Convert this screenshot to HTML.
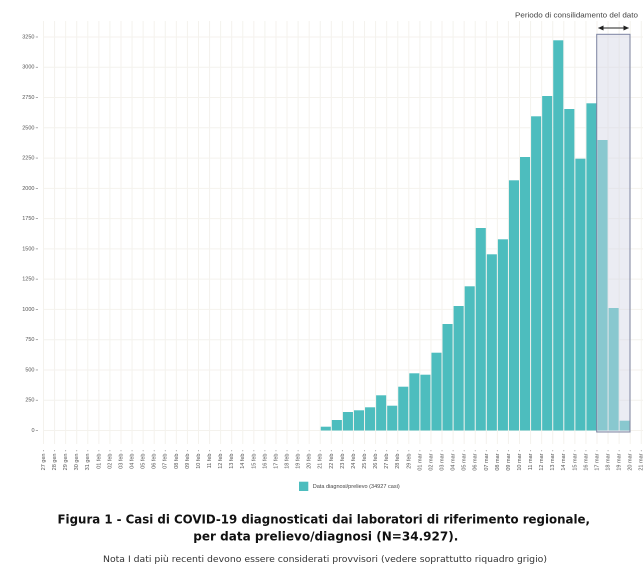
<!DOCTYPE html>
<html><head><meta charset="utf-8"><style>
html,body{margin:0;padding:0;background:#fff;}
svg{display:block;}
</style></head><body>
<svg width="643" height="574" viewBox="0 0 643 574" xmlns="http://www.w3.org/2000/svg">
<rect width="643" height="574" fill="#fff"/>
<defs>
<marker id="ah" markerWidth="6" markerHeight="6" refX="5" refY="3" orient="auto-start-reverse" markerUnits="userSpaceOnUse"><path d="M0,0.5 L5.5,3 L0,5.5 Z" fill="#222"/></marker>
</defs>
<!-- vertical grid -->
<g stroke="#f4f2ed" stroke-width="1">
<line x1="43.5" y1="21" x2="43.5" y2="444"/><line x1="54.57" y1="21" x2="54.57" y2="444"/><line x1="65.64" y1="21" x2="65.64" y2="444"/><line x1="76.71" y1="21" x2="76.71" y2="444"/><line x1="87.78" y1="21" x2="87.78" y2="444"/><line x1="98.85" y1="21" x2="98.85" y2="444"/><line x1="109.92" y1="21" x2="109.92" y2="444"/><line x1="120.99" y1="21" x2="120.99" y2="444"/><line x1="132.06" y1="21" x2="132.06" y2="444"/><line x1="143.13" y1="21" x2="143.13" y2="444"/><line x1="154.2" y1="21" x2="154.2" y2="444"/><line x1="165.27" y1="21" x2="165.27" y2="444"/><line x1="176.34" y1="21" x2="176.34" y2="444"/><line x1="187.41" y1="21" x2="187.41" y2="444"/><line x1="198.48" y1="21" x2="198.48" y2="444"/><line x1="209.55" y1="21" x2="209.55" y2="444"/><line x1="220.62" y1="21" x2="220.62" y2="444"/><line x1="231.69" y1="21" x2="231.69" y2="444"/><line x1="242.76" y1="21" x2="242.76" y2="444"/><line x1="253.83" y1="21" x2="253.83" y2="444"/><line x1="264.9" y1="21" x2="264.9" y2="444"/><line x1="275.97" y1="21" x2="275.97" y2="444"/><line x1="287.04" y1="21" x2="287.04" y2="444"/><line x1="298.11" y1="21" x2="298.11" y2="444"/><line x1="309.18" y1="21" x2="309.18" y2="444"/><line x1="320.25" y1="21" x2="320.25" y2="444"/><line x1="331.32" y1="21" x2="331.32" y2="444"/><line x1="342.39" y1="21" x2="342.39" y2="444"/><line x1="353.46" y1="21" x2="353.46" y2="444"/><line x1="364.53" y1="21" x2="364.53" y2="444"/><line x1="375.6" y1="21" x2="375.6" y2="444"/><line x1="386.67" y1="21" x2="386.67" y2="444"/><line x1="397.74" y1="21" x2="397.74" y2="444"/><line x1="408.81" y1="21" x2="408.81" y2="444"/><line x1="419.88" y1="21" x2="419.88" y2="444"/><line x1="430.95" y1="21" x2="430.95" y2="444"/><line x1="442.02" y1="21" x2="442.02" y2="444"/><line x1="453.09" y1="21" x2="453.09" y2="444"/><line x1="464.16" y1="21" x2="464.16" y2="444"/><line x1="475.23" y1="21" x2="475.23" y2="444"/><line x1="486.3" y1="21" x2="486.3" y2="444"/><line x1="497.37" y1="21" x2="497.37" y2="444"/><line x1="508.44" y1="21" x2="508.44" y2="444"/><line x1="519.51" y1="21" x2="519.51" y2="444"/><line x1="530.58" y1="21" x2="530.58" y2="444"/><line x1="541.65" y1="21" x2="541.65" y2="444"/><line x1="552.72" y1="21" x2="552.72" y2="444"/><line x1="563.79" y1="21" x2="563.79" y2="444"/><line x1="574.86" y1="21" x2="574.86" y2="444"/><line x1="585.93" y1="21" x2="585.93" y2="444"/><line x1="597" y1="21" x2="597" y2="444"/><line x1="608.07" y1="21" x2="608.07" y2="444"/><line x1="619.14" y1="21" x2="619.14" y2="444"/><line x1="630.21" y1="21" x2="630.21" y2="444"/><line x1="641.28" y1="21" x2="641.28" y2="444"/>
</g>
<!-- horizontal grid -->
<g stroke="#f4f2ed" stroke-width="1">
<line x1="43" y1="430.5" x2="643" y2="430.5"/><line x1="43" y1="400.23" x2="643" y2="400.23"/><line x1="43" y1="369.96" x2="643" y2="369.96"/><line x1="43" y1="339.69" x2="643" y2="339.69"/><line x1="43" y1="309.42" x2="643" y2="309.42"/><line x1="43" y1="279.15" x2="643" y2="279.15"/><line x1="43" y1="248.88" x2="643" y2="248.88"/><line x1="43" y1="218.61" x2="643" y2="218.61"/><line x1="43" y1="188.34" x2="643" y2="188.34"/><line x1="43" y1="158.07" x2="643" y2="158.07"/><line x1="43" y1="127.8" x2="643" y2="127.8"/><line x1="43" y1="97.53" x2="643" y2="97.53"/><line x1="43" y1="67.26" x2="643" y2="67.26"/><line x1="43" y1="36.99" x2="643" y2="36.99"/>
</g>
<!-- y labels -->
<g font-family="Liberation Sans, sans-serif" font-size="5.5" fill="#555" text-anchor="end" dominant-baseline="middle">
<text x="34.5" y="430.5">0</text><text x="34.5" y="400.23">250</text><text x="34.5" y="369.96">500</text><text x="34.5" y="339.69">750</text><text x="34.5" y="309.42">1000</text><text x="34.5" y="279.15">1250</text><text x="34.5" y="248.88">1500</text><text x="34.5" y="218.61">1750</text><text x="34.5" y="188.34">2000</text><text x="34.5" y="158.07">2250</text><text x="34.5" y="127.8">2500</text><text x="34.5" y="97.53">2750</text><text x="34.5" y="67.26">3000</text><text x="34.5" y="36.99">3250</text>
</g>
<g stroke="#888" stroke-width="0.7">
<line x1="35.8" y1="430.5" x2="38" y2="430.5"/><line x1="35.8" y1="400.23" x2="38" y2="400.23"/><line x1="35.8" y1="369.96" x2="38" y2="369.96"/><line x1="35.8" y1="339.69" x2="38" y2="339.69"/><line x1="35.8" y1="309.42" x2="38" y2="309.42"/><line x1="35.8" y1="279.15" x2="38" y2="279.15"/><line x1="35.8" y1="248.88" x2="38" y2="248.88"/><line x1="35.8" y1="218.61" x2="38" y2="218.61"/><line x1="35.8" y1="188.34" x2="38" y2="188.34"/><line x1="35.8" y1="158.07" x2="38" y2="158.07"/><line x1="35.8" y1="127.8" x2="38" y2="127.8"/><line x1="35.8" y1="97.53" x2="38" y2="97.53"/><line x1="35.8" y1="67.26" x2="38" y2="67.26"/><line x1="35.8" y1="36.99" x2="38" y2="36.99"/>
</g>
<!-- bars -->
<g fill="#4dbdbe">
<rect x="320.75" y="426.7" width="10.07" height="3.8"/>
<rect x="331.82" y="420" width="10.07" height="10.5"/>
<rect x="342.89" y="412" width="10.07" height="18.5"/>
<rect x="353.96" y="410.3" width="10.07" height="20.2"/>
<rect x="365.03" y="407.3" width="10.07" height="23.2"/>
<rect x="376.1" y="395.3" width="10.07" height="35.2"/>
<rect x="387.17" y="405.7" width="10.07" height="24.8"/>
<rect x="398.24" y="386.7" width="10.07" height="43.8"/>
<rect x="409.31" y="373.3" width="10.07" height="57.2"/>
<rect x="420.38" y="374.7" width="10.07" height="55.8"/>
<rect x="431.45" y="352.7" width="10.07" height="77.8"/>
<rect x="442.52" y="324" width="10.07" height="106.5"/>
<rect x="453.59" y="306" width="10.07" height="124.5"/>
<rect x="464.66" y="286.3" width="10.07" height="144.2"/>
<rect x="475.73" y="228" width="10.07" height="202.5"/>
<rect x="486.8" y="254.3" width="10.07" height="176.2"/>
<rect x="497.87" y="239.3" width="10.07" height="191.2"/>
<rect x="508.94" y="180.3" width="10.07" height="250.2"/>
<rect x="520.01" y="157" width="10.07" height="273.5"/>
<rect x="531.08" y="116.3" width="10.07" height="314.2"/>
<rect x="542.15" y="96" width="10.07" height="334.5"/>
<rect x="553.22" y="40.3" width="10.07" height="390.2"/>
<rect x="564.29" y="109" width="10.07" height="321.5"/>
<rect x="575.36" y="158.7" width="10.07" height="271.8"/>
<rect x="586.43" y="103.3" width="10.07" height="327.2"/>
<rect x="597.5" y="140" width="10.07" height="290.5"/>
<rect x="608.57" y="308" width="10.07" height="122.5"/>
<rect x="619.64" y="420.7" width="10.07" height="9.8"/>
</g>
<!-- consolidation box -->
<rect x="596.7" y="34.3" width="33.3" height="397.7" fill="#d3d5e5" fill-opacity="0.45" stroke="#7d84a2" stroke-width="1"/>
<line x1="598.5" y1="28" x2="628.5" y2="28" stroke="#222" stroke-width="1.1" marker-start="url(#ah)" marker-end="url(#ah)"/>
<text x="576.5" y="17.5" font-family="Liberation Sans, sans-serif" font-size="7.5" fill="#444" text-anchor="middle" textLength="123" lengthAdjust="spacingAndGlyphs">Periodo di consilidamento del dato</text>
<!-- x ticks -->
<g fill="#777">
<circle cx="43.5" cy="450.7" r="0.5"/><circle cx="54.57" cy="450.7" r="0.5"/><circle cx="65.64" cy="450.7" r="0.5"/><circle cx="76.71" cy="450.7" r="0.5"/><circle cx="87.78" cy="450.7" r="0.5"/><circle cx="98.85" cy="450.7" r="0.5"/><circle cx="109.92" cy="450.7" r="0.5"/><circle cx="120.99" cy="450.7" r="0.5"/><circle cx="132.06" cy="450.7" r="0.5"/><circle cx="143.13" cy="450.7" r="0.5"/><circle cx="154.2" cy="450.7" r="0.5"/><circle cx="165.27" cy="450.7" r="0.5"/><circle cx="176.34" cy="450.7" r="0.5"/><circle cx="187.41" cy="450.7" r="0.5"/><circle cx="198.48" cy="450.7" r="0.5"/><circle cx="209.55" cy="450.7" r="0.5"/><circle cx="220.62" cy="450.7" r="0.5"/><circle cx="231.69" cy="450.7" r="0.5"/><circle cx="242.76" cy="450.7" r="0.5"/><circle cx="253.83" cy="450.7" r="0.5"/><circle cx="264.9" cy="450.7" r="0.5"/><circle cx="275.97" cy="450.7" r="0.5"/><circle cx="287.04" cy="450.7" r="0.5"/><circle cx="298.11" cy="450.7" r="0.5"/><circle cx="309.18" cy="450.7" r="0.5"/><circle cx="320.25" cy="450.7" r="0.5"/><circle cx="331.32" cy="450.7" r="0.5"/><circle cx="342.39" cy="450.7" r="0.5"/><circle cx="353.46" cy="450.7" r="0.5"/><circle cx="364.53" cy="450.7" r="0.5"/><circle cx="375.6" cy="450.7" r="0.5"/><circle cx="386.67" cy="450.7" r="0.5"/><circle cx="397.74" cy="450.7" r="0.5"/><circle cx="408.81" cy="450.7" r="0.5"/><circle cx="419.88" cy="450.7" r="0.5"/><circle cx="430.95" cy="450.7" r="0.5"/><circle cx="442.02" cy="450.7" r="0.5"/><circle cx="453.09" cy="450.7" r="0.5"/><circle cx="464.16" cy="450.7" r="0.5"/><circle cx="475.23" cy="450.7" r="0.5"/><circle cx="486.3" cy="450.7" r="0.5"/><circle cx="497.37" cy="450.7" r="0.5"/><circle cx="508.44" cy="450.7" r="0.5"/><circle cx="519.51" cy="450.7" r="0.5"/><circle cx="530.58" cy="450.7" r="0.5"/><circle cx="541.65" cy="450.7" r="0.5"/><circle cx="552.72" cy="450.7" r="0.5"/><circle cx="563.79" cy="450.7" r="0.5"/><circle cx="574.86" cy="450.7" r="0.5"/><circle cx="585.93" cy="450.7" r="0.5"/><circle cx="597" cy="450.7" r="0.5"/><circle cx="608.07" cy="450.7" r="0.5"/><circle cx="619.14" cy="450.7" r="0.5"/><circle cx="630.21" cy="450.7" r="0.5"/><circle cx="641.28" cy="450.7" r="0.5"/>
</g>
<!-- x labels -->
<g font-family="Liberation Sans, sans-serif" font-size="5.5" fill="#555" text-anchor="end" dominant-baseline="middle">
<text transform="translate(43.5,453.5) rotate(-90)">27 gen</text>
<text transform="translate(54.57,453.5) rotate(-90)">28 gen</text>
<text transform="translate(65.64,453.5) rotate(-90)">29 gen</text>
<text transform="translate(76.71,453.5) rotate(-90)">30 gen</text>
<text transform="translate(87.78,453.5) rotate(-90)">31 gen</text>
<text transform="translate(98.85,453.5) rotate(-90)">01 feb</text>
<text transform="translate(109.92,453.5) rotate(-90)">02 feb</text>
<text transform="translate(120.99,453.5) rotate(-90)">03 feb</text>
<text transform="translate(132.06,453.5) rotate(-90)">04 feb</text>
<text transform="translate(143.13,453.5) rotate(-90)">05 feb</text>
<text transform="translate(154.2,453.5) rotate(-90)">06 feb</text>
<text transform="translate(165.27,453.5) rotate(-90)">07 feb</text>
<text transform="translate(176.34,453.5) rotate(-90)">08 feb</text>
<text transform="translate(187.41,453.5) rotate(-90)">09 feb</text>
<text transform="translate(198.48,453.5) rotate(-90)">10 feb</text>
<text transform="translate(209.55,453.5) rotate(-90)">11 feb</text>
<text transform="translate(220.62,453.5) rotate(-90)">12 feb</text>
<text transform="translate(231.69,453.5) rotate(-90)">13 feb</text>
<text transform="translate(242.76,453.5) rotate(-90)">14 feb</text>
<text transform="translate(253.83,453.5) rotate(-90)">15 feb</text>
<text transform="translate(264.9,453.5) rotate(-90)">16 feb</text>
<text transform="translate(275.97,453.5) rotate(-90)">17 feb</text>
<text transform="translate(287.04,453.5) rotate(-90)">18 feb</text>
<text transform="translate(298.11,453.5) rotate(-90)">19 feb</text>
<text transform="translate(309.18,453.5) rotate(-90)">20 feb</text>
<text transform="translate(320.25,453.5) rotate(-90)">21 feb</text>
<text transform="translate(331.32,453.5) rotate(-90)">22 feb</text>
<text transform="translate(342.39,453.5) rotate(-90)">23 feb</text>
<text transform="translate(353.46,453.5) rotate(-90)">24 feb</text>
<text transform="translate(364.53,453.5) rotate(-90)">25 feb</text>
<text transform="translate(375.6,453.5) rotate(-90)">26 feb</text>
<text transform="translate(386.67,453.5) rotate(-90)">27 feb</text>
<text transform="translate(397.74,453.5) rotate(-90)">28 feb</text>
<text transform="translate(408.81,453.5) rotate(-90)">29 feb</text>
<text transform="translate(419.88,453.5) rotate(-90)">01 mar</text>
<text transform="translate(430.95,453.5) rotate(-90)">02 mar</text>
<text transform="translate(442.02,453.5) rotate(-90)">03 mar</text>
<text transform="translate(453.09,453.5) rotate(-90)">04 mar</text>
<text transform="translate(464.16,453.5) rotate(-90)">05 mar</text>
<text transform="translate(475.23,453.5) rotate(-90)">06 mar</text>
<text transform="translate(486.3,453.5) rotate(-90)">07 mar</text>
<text transform="translate(497.37,453.5) rotate(-90)">08 mar</text>
<text transform="translate(508.44,453.5) rotate(-90)">09 mar</text>
<text transform="translate(519.51,453.5) rotate(-90)">10 mar</text>
<text transform="translate(530.58,453.5) rotate(-90)">11 mar</text>
<text transform="translate(541.65,453.5) rotate(-90)">12 mar</text>
<text transform="translate(552.72,453.5) rotate(-90)">13 mar</text>
<text transform="translate(563.79,453.5) rotate(-90)">14 mar</text>
<text transform="translate(574.86,453.5) rotate(-90)">15 mar</text>
<text transform="translate(585.93,453.5) rotate(-90)">16 mar</text>
<text transform="translate(597,453.5) rotate(-90)">17 mar</text>
<text transform="translate(608.07,453.5) rotate(-90)">18 mar</text>
<text transform="translate(619.14,453.5) rotate(-90)">19 mar</text>
<text transform="translate(630.21,453.5) rotate(-90)">20 mar</text>
<text transform="translate(641.28,453.5) rotate(-90)">21 mar</text>
</g>
<!-- legend -->
<rect x="299" y="481.7" width="9.3" height="9.3" fill="#4dbdbe"/>
<text x="312.7" y="488.2" font-family="Liberation Sans, sans-serif" font-size="5.6" fill="#444" textLength="87" lengthAdjust="spacingAndGlyphs">Data diagnosi/prelievo (34927 casi)</text>
<!-- caption -->
<text x="57.5" y="523.5" font-family="DejaVu Sans, Liberation Sans, sans-serif" font-weight="bold" font-size="12.5" fill="#111" textLength="532.5" lengthAdjust="spacingAndGlyphs">Figura 1 - Casi di COVID-19 diagnosticati dai laboratori di riferimento regionale,</text>
<text x="193.3" y="540.5" font-family="DejaVu Sans, Liberation Sans, sans-serif" font-weight="bold" font-size="12.5" fill="#111" textLength="265" lengthAdjust="spacingAndGlyphs">per data prelievo/diagnosi (N=34.927).</text>
<text x="103" y="562" font-family="DejaVu Sans, Liberation Sans, sans-serif" font-size="8.6" fill="#333" textLength="444" lengthAdjust="spacingAndGlyphs">Nota I dati più recenti devono essere considerati provvisori (vedere soprattutto riquadro grigio)</text>
</svg>
</body></html>
